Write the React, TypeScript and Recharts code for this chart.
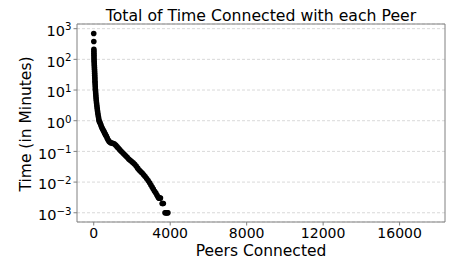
import React from 'react';
import { ScatterChart, Scatter, XAxis, YAxis, CartesianGrid, ReferenceArea } from 'recharts';

// rank of each peer (x) and total minutes connected (y)
const peersConnected = [
  0, 4,
  8, 10, 12, 13, 15, 16, 20, 25, 30, 35, 40, 44, 49, 53, 57, 61, 65, 70, 76, 81, 86, 94,
  102, 110, 118, 126, 137, 148, 159, 172, 185, 198, 211, 229, 247, 265,
  277, 308, 339, 370, 402, 436, 470, 504, 538, 569, 600, 632, 663, 705, 746, 793, 846, 914,
  992, 1070, 1148, 1216, 1284, 1357, 1435, 1514, 1592, 1670, 1749, 1827, 1905, 1984, 2062,
  2140, 2219, 2297, 2375, 2453, 2532, 2610, 2688, 2767, 2845, 2923, 2991, 3054, 3116, 3184,
  3247, 3305, 3357,
  3400, 3430, 3460, 3490,
  3580, 3610, 3640,
  3730, 3770, 3810, 3850, 3880,
];

const timeMinutes = [
  700, 380,
  214, 184, 159, 137, 118, 101, 87.2, 75.1, 64.6, 55.7, 47.9, 41.3, 35.5, 30.6, 26.3, 22.7,
  19.5, 16.8, 14.5, 12.5, 10.7, 9.24,
  7.95, 6.85, 5.9, 5.08, 4.37, 3.76, 3.24, 2.79, 2.4, 2.07, 1.78, 1.53, 1.32, 1.14,
  1.0, 0.91, 0.83, 0.74, 0.65, 0.58, 0.53, 0.48, 0.44, 0.4, 0.365, 0.335, 0.31, 0.27, 0.24,
  0.216, 0.197, 0.189,
  0.183, 0.176, 0.16, 0.143, 0.128, 0.114, 0.101, 0.09, 0.08, 0.0718, 0.0647, 0.0565, 0.0516,
  0.0469, 0.0425,
  0.0378, 0.0333, 0.0284, 0.0246, 0.022, 0.0197, 0.0173, 0.0151, 0.013, 0.0112, 0.0095, 0.008,
  0.0069, 0.0059, 0.005,
  0.0044, 0.0038, 0.0033,
  0.003, 0.003, 0.003, 0.003,
  0.002, 0.002, 0.002,
  0.001, 0.001, 0.001, 0.001, 0.001,
];

const xTicks = [0, 4000, 8000, 12000, 16000];
const yTicks = [0.001, 0.01, 0.1, 1, 10, 100, 1000];
const xDomain = [-875, 18375];
const yDomain = [0.0005, 1420];

const data = peersConnected.map((p, i) => ({ peers: p, time: timeMinutes[i] }));

const FONT = 'DejaVu Sans, sans-serif';

const PowerTick = (props: any) => {
  const { x, y, payload } = props;
  const exp = Math.round(Math.log10(payload.value));
  const sup = exp < 0 ? '\u2212' + Math.abs(exp) : String(exp);
  return (
    <text x={x} y={y} dy={7.3} textAnchor="end" fontSize={14.5} fontFamily={FONT} fill="#000">
      10
      <tspan dy={-5.5} fontSize={10.2}>{sup}</tspan>
    </text>
  );
};

const Dot = (props: any) => <circle cx={props.cx} cy={props.cy} r={2.8} fill="#000" />;

export default function App() {
  return (
    <div style={{ position: 'absolute', left: 0, top: 0, width: 452, height: 263, background: '#fff' }}>
      <ScatterChart width={452} height={263} margin={{ top: 24, right: 7, bottom: 11, left: 36 }}>
        <CartesianGrid vertical={false} stroke="#cfcfcf" strokeDasharray="3 2" strokeWidth={0.8} />
        <XAxis
          type="number"
          dataKey="peers"
          domain={xDomain}
          ticks={xTicks}
          allowDataOverflow
          height={30}
          axisLine={false}
          tickLine={{ stroke: '#808080' }}
          tickSize={3.5}
          tickMargin={3}
          tick={{ fontSize: 14, fontFamily: FONT, fill: '#000' }}
          label={{
            content: () => (
              <text x={261} y={256} textAnchor="middle" fontSize={15.5} fontFamily={FONT} fill="#000">
                Peers Connected
              </text>
            ),
          }}
        />
        <YAxis
          type="number"
          dataKey="time"
          scale="log"
          domain={yDomain}
          ticks={yTicks}
          allowDataOverflow
          width={41}
          axisLine={false}
          tickLine={{ stroke: '#808080' }}
          tickSize={3.5}
          tickMargin={2}
          tick={<PowerTick />}
          label={{
            content: () => (
              <text x={30.5} y={124} transform="rotate(-90, 30.5, 124)" textAnchor="middle" fontSize={15.5} fontFamily={FONT} fill="#000">
                Time (in Minutes)
              </text>
            ),
          }}
        />
        <ReferenceArea
          x1={xDomain[0]}
          x2={xDomain[1]}
          y1={yDomain[0]}
          y2={yDomain[1]}
          fill="none"
          stroke="#808080"
          strokeWidth={1}
          ifOverflow="visible"
          label={{ value: 'Total of Time Connected with each Peer', position: 'top', offset: 3.5, fontSize: 15.7, fontFamily: FONT, fill: '#000' }}
        />
        <Scatter data={data} shape={<Dot />} isAnimationActive={false} />
      </ScatterChart>
    </div>
  );
}
